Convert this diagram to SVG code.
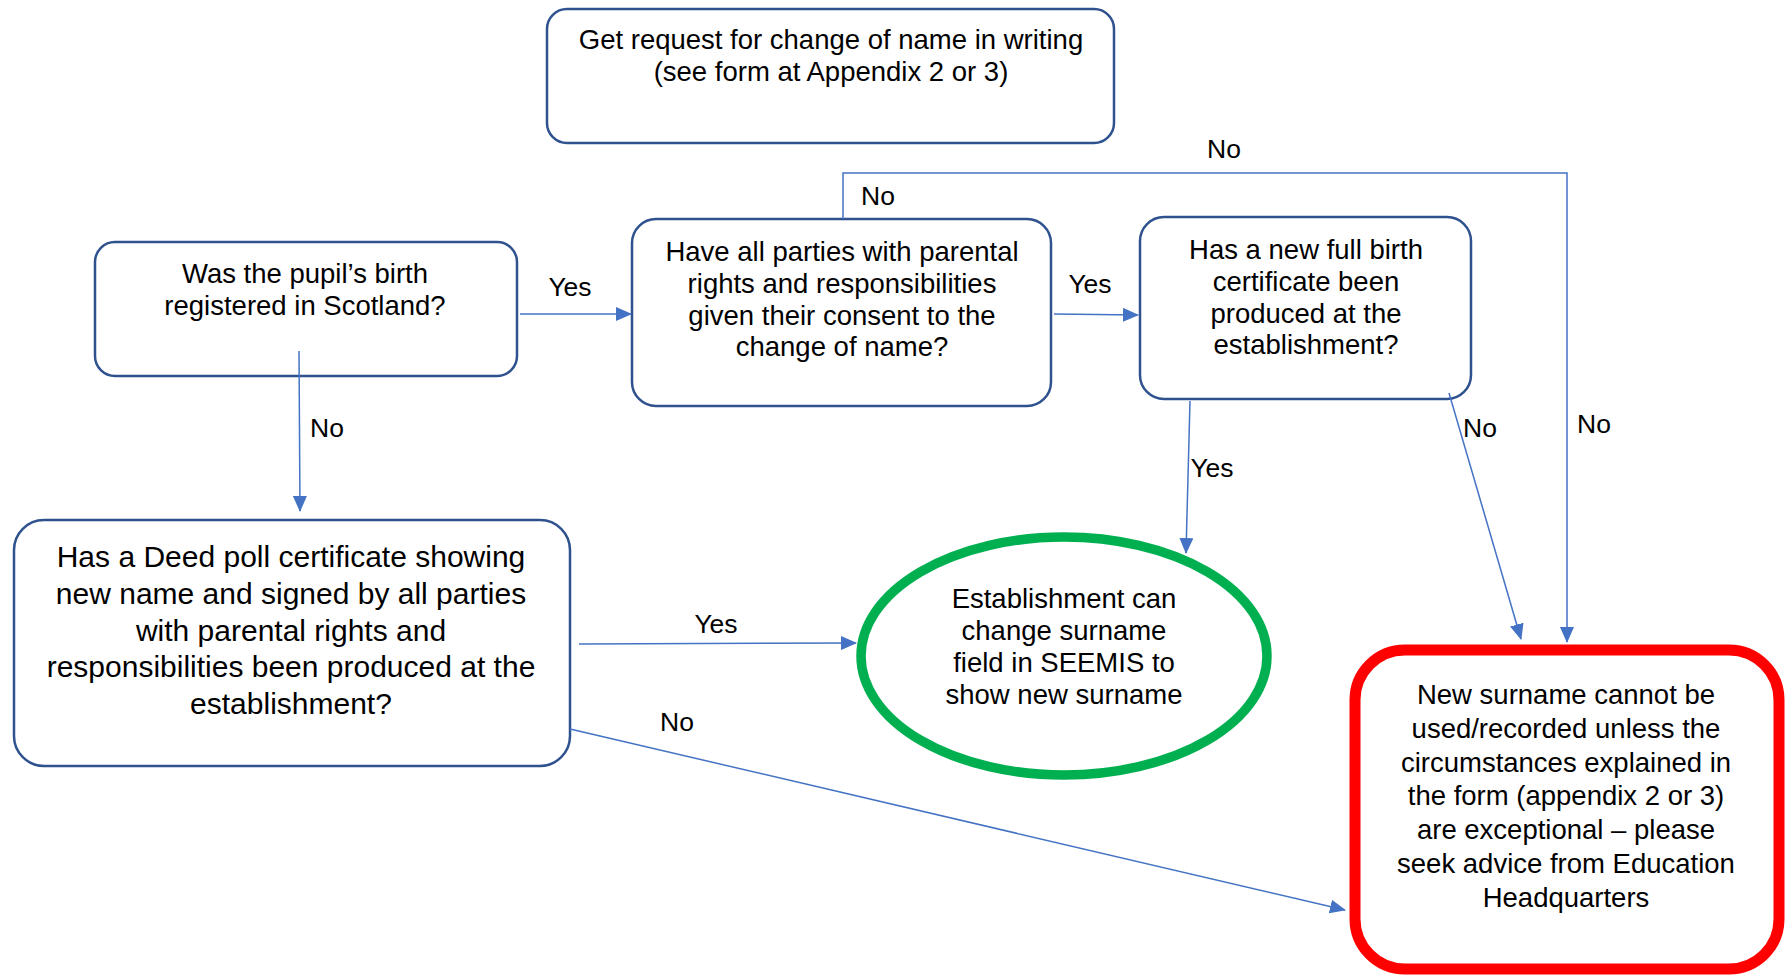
<svg xmlns="http://www.w3.org/2000/svg" width="1788" height="976" viewBox="0 0 1788 976">
<style>
.box{fill:#fff;stroke:#2F528F;stroke-width:2.5}
.t{font-family:"Liberation Sans",Arial,sans-serif;font-size:27.5px;fill:#000;text-anchor:middle}
.big{font-size:30px}
.lbl{font-family:"Liberation Sans",Arial,sans-serif;font-size:26.5px;fill:#000;text-anchor:middle}
.c{fill:none;stroke:#4472C4;stroke-width:1.5}
</style>
<defs>
<marker id="ah" markerUnits="userSpaceOnUse" markerWidth="16" markerHeight="14" viewBox="0 0 16 14" refX="15" refY="7" orient="auto">
<path d="M0,0 L16,7 L0,14 Z" fill="#4472C4"/>
</marker>
</defs>
<rect width="1788" height="976" fill="#fff"/>
<g id="start">
<rect class="box" x="547" y="9" width="567" height="134" rx="20"/>
<text class="t" x="831" y="49">Get request for change of name in writing</text>
<text class="t" x="831" y="81">(see form at Appendix 2 or 3)</text>
</g>
<g id="q-scotland">
<rect class="box" x="95" y="242" width="422" height="134" rx="20"/>
<text class="t" x="305" y="283">Was the pupil’s birth</text>
<text class="t" x="305" y="315">registered in Scotland?</text>
</g>
<g id="q-consent">
<rect class="box" x="632" y="219" width="419" height="187" rx="24"/>
<text class="t" x="842" y="261">Have all parties with parental</text>
<text class="t" x="842" y="293">rights and responsibilities</text>
<text class="t" x="842" y="325">given their consent to the</text>
<text class="t" x="842" y="356">change of name?</text>
</g>
<g id="q-birthcert">
<rect class="box" x="1140" y="217" width="331" height="182" rx="24"/>
<text class="t" x="1306" y="259">Has a new full birth</text>
<text class="t" x="1306" y="291">certificate been</text>
<text class="t" x="1306" y="323">produced at the</text>
<text class="t" x="1306" y="354">establishment?</text>
</g>
<g id="q-deedpoll">
<rect class="box" x="14" y="520" width="556" height="246" rx="30"/>
<text class="t big" x="291" y="567">Has a Deed poll certificate showing</text>
<text class="t big" x="291" y="604">new name and signed by all parties</text>
<text class="t big" x="291" y="641">with parental rights and</text>
<text class="t big" x="291" y="677">responsibilities been produced at the</text>
<text class="t big" x="291" y="714">establishment?</text>
</g>
<g id="ok">
<ellipse cx="1064" cy="656" rx="203" ry="119" fill="#fff" stroke="#00B050" stroke-width="9.5"/>
<text class="t" x="1064" y="608">Establishment can</text>
<text class="t" x="1064" y="640">change surname</text>
<text class="t" x="1064" y="672">field in SEEMIS to</text>
<text class="t" x="1064" y="704">show new surname</text>
</g>
<g id="stop">
<rect x="1355" y="650" width="424" height="319" rx="50" fill="#fff" stroke="#FF0000" stroke-width="11"/>
<text class="t" x="1566" y="704">New surname cannot be</text>
<text class="t" x="1566" y="738">used/recorded unless the</text>
<text class="t" x="1566" y="772">circumstances explained in</text>
<text class="t" x="1566" y="805">the form (appendix 2 or 3)</text>
<text class="t" x="1566" y="839">are exceptional – please</text>
<text class="t" x="1566" y="873">seek advice from Education</text>
<text class="t" x="1566" y="907">Headquarters</text>
</g>
<g id="connectors">
<path class="c" d="M520,314 L631,314" marker-end="url(#ah)"/>
<path class="c" d="M1054,314 L1138,315" marker-end="url(#ah)"/>
<path class="c" d="M299,351 L300,511" marker-end="url(#ah)"/>
<path class="c" d="M843,219 L843,173 L1567,173 L1567,642" marker-end="url(#ah)"/>
<path class="c" d="M1449,393 L1521,639" marker-end="url(#ah)"/>
<path class="c" d="M1190,401 L1186,553" marker-end="url(#ah)"/>
<path class="c" d="M579,644 L856,643" marker-end="url(#ah)"/>
<path class="c" d="M570,729 L1345,910" marker-end="url(#ah)"/>
<text class="lbl" x="570" y="296">Yes</text>
<text class="lbl" x="1090" y="293">Yes</text>
<text class="lbl" x="327" y="437">No</text>
<text class="lbl" x="878" y="205">No</text>
<text class="lbl" x="1224" y="158">No</text>
<text class="lbl" x="1594" y="433">No</text>
<text class="lbl" x="1480" y="437">No</text>
<text class="lbl" x="1212" y="477">Yes</text>
<text class="lbl" x="716" y="633">Yes</text>
<text class="lbl" x="677" y="731">No</text>
</g>
</svg>
